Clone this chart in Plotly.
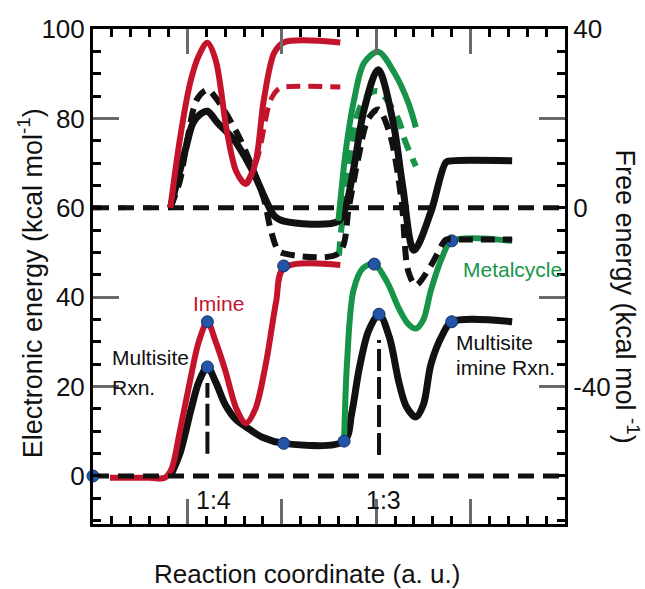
import plotly.graph_objects as go

# ---------------- data (x: reaction coordinate a.u.) ----------------
# Lower panel: electronic energy (left axis, kcal/mol)
imine_el_x = [0.9, 3.0, 3.8, 4.15, 4.6, 5.15, 5.6, 6.06, 6.5, 7.0, 7.6, 8.1, 8.6, 9.15, 9.7, 10.1, 13.1]
imine_el_y = [-0.4, -0.4, -0.4, 1.5, 10, 21.5, 30, 34.5, 30, 23.7, 15, 11.8, 15, 25, 39, 46.5, 47.2]

multi_el_x = [4.1, 4.6, 5.2, 5.6, 6.06, 6.5, 7.0, 7.6, 8.1, 9.0, 10.1, 13.3, 13.7, 14.1, 14.6, 15.15,
              15.7, 16.2, 16.6, 17.1, 17.5, 17.9, 18.5, 19.0, 22.2]
multi_el_y = [0, 5, 15, 21, 24.4, 21, 16, 12.5, 11, 8.6, 7.3, 7.8, 14, 24, 32.5, 36.2,
              31, 21, 15.5, 13.2, 16, 25, 31.5, 34.5, 34.5]

metal_el_x = [13.3, 13.45, 13.8, 14.3, 14.9, 15.6, 16.2, 16.7, 17.1, 17.5, 17.9, 18.5, 19.0, 22.2]
metal_el_y = [7.8, 25, 41.6, 46.5, 47.4, 43.2, 37.5, 34, 33, 35, 41.6, 49, 52.6, 52.6]

# Upper panel: free energy (right axis, kcal/mol)
imine_g_x = [4.1, 4.6, 5.15, 5.6, 6.06, 6.5, 7.1, 7.6, 8.1, 8.6, 9.05, 9.6, 10.1, 13.1]
imine_g_y = [0, 15.3, 28, 34, 36.9, 33, 16.9, 8, 5.3, 10, 24.2, 34.7, 37, 37]

imine_gd0_x = [0, 4.1]
imine_gd0_y = [0, 0]
imine_gd_x = [8.1, 8.7, 9.4, 9.8, 10.1, 13.1]
imine_gd_y = [5.3, 11, 24, 26.5, 27, 27]

multi_g_x = [4.1, 4.9, 5.3, 5.7, 6.06, 6.6, 7.45, 8.1, 8.6, 9.05, 9.6, 10.1, 13.0, 13.4, 13.83, 14.36,
             15.1, 15.9, 16.4, 17.0, 17.9, 18.7, 19.0, 22.2]
multi_g_y = [0, 13.1, 19, 21, 21.6, 19, 15.3, 11, 7, 2.7, -1.8, -3, -3, 0.5, 9.3, 22,
             30.9, 19.1, 4.9, -9.5, -0.9, 10.2, 10.5, 10.5]

multi_gd_x = [4.1, 4.6, 5.0, 5.5, 6.06, 6.6, 7.8, 9.05, 9.4, 9.8, 10.1, 13.0, 13.56, 14.04, 14.57,
              15.1, 15.7, 16.33, 16.7, 17.1, 17.9, 18.7, 19.0, 22.2]
multi_gd_y = [0, 6, 15.3, 24.2, 26.4, 24, 15.3, 2, -4.7, -9.5, -10.2, -10.2, 0.4, 10.9, 19.8,
              22, 16.9, 2, -14.2, -17.3, -12.9, -7.1, -7.1, -7.1]

metal_g_x = [13.0, 13.4, 13.83, 14.36, 15.1, 15.96, 16.7, 17.1]
metal_g_y = [-2.9, 13.1, 24.2, 32.4, 34.9, 30.2, 23.5, 18]

metal_gd_x = [13.03, 13.14, 13.67, 14.1, 14.73, 15.16, 16.17, 16.5, 17.1]
metal_gd_y = [-10.7, -5.3, 13.1, 22, 25.8, 26, 19.8, 15.3, 9.3]

# reference lines
zero_x = [0, 25]
zero_y = [0, 0]

# transition-state guides (left axis)
ts1_x = [6.06, 6.06]
ts1_y = [5, 20.8]
ts2_x = [15.15, 15.15]
ts2_y = [4.7, 30.4]

# stationary points (left axis)
pts_x = [0, 6.06, 6.06, 10.1, 10.1, 13.3, 14.9, 15.15, 19.0, 19.0]
pts_y = [0, 34.5, 24.4, 7.3, 47, 7.8, 47.4, 36.2, 52.6, 34.5]

# axis ticks (short ticks every step; labels only at the labelled values)
left_ticks = list(range(-10, 101, 5))
left_text = [str(v) if v % 20 == 0 and v >= 0 else "" for v in left_ticks]
left_long = [20, 40, 80]
right_ticks = list(range(-70, 41, 5))
right_text = [str(v) if v in (-40, 0, 40) else "" for v in right_ticks]
right_long = [-40, -20, 20]
x_ticks = [v for v in range(0, 26) if v % 5 != 0]
x_long = [5, 10, 15, 20]
x_labels_x = [6.38, 15.37]
x_labels = ["1:4", "1:3"]

LEFT_RANGE = [-10.74, 100]
RIGHT_RANGE = [-70.74, 40]

RED = "#c4142b"
GREEN = "#17944a"
BLACK = "#111111"
BLUE = "#2454a6"
FONT = "Liberation Sans, Arial, sans-serif"
TICK = "black"
LONG = "dimgray"
TW = 2.5

fig = go.Figure()


def line(x, y, color, width, dash="solid", axis="y", shape="spline"):
    fig.add_trace(go.Scatter(x=x, y=y, mode="lines", yaxis=axis,
                             line=dict(color=color, width=width, dash=dash, shape=shape, smoothing=0.9),
                             hoverinfo="skip", showlegend=False))


DASH = "16px,9px"

# lower panel (electronic)
line(multi_el_x, multi_el_y, BLACK, 7)
line(metal_el_x, metal_el_y, GREEN, 6)
line(imine_el_x, imine_el_y, RED, 6)
# upper dashed imine (free energy)
line(imine_gd0_x, imine_gd0_y, RED, 5, dash="8px,17px", axis="y2", shape="linear")
line(imine_gd_x, imine_gd_y, RED, 5, dash="14px,8px", axis="y2")
# zero lines
line(zero_x, zero_y, BLACK, 5, dash=DASH, axis="y", shape="linear")
line(zero_x, zero_y, BLACK, 5, dash=DASH, axis="y2", shape="linear")
line(metal_gd_x, metal_gd_y, GREEN, 6, dash="14px,9px", axis="y2")
line(multi_gd_x, multi_gd_y, BLACK, 6, dash="14px,8px", axis="y2")
line(multi_g_x, multi_g_y, BLACK, 7, axis="y2")
line(metal_g_x, metal_g_y, GREEN, 6, axis="y2")
line(imine_g_x, imine_g_y, RED, 6, axis="y2")
# TS guides
line(ts1_x, ts1_y, BLACK, 4, dash="22px,6px", shape="linear")
line(ts2_x, ts2_y, BLACK, 4, dash="22px,6px", shape="linear")

fig.add_trace(go.Scatter(x=pts_x, y=pts_y, mode="markers", cliponaxis=False,
                         marker=dict(size=12, color=BLUE, line=dict(color="#14306a", width=1)),
                         hoverinfo="skip", showlegend=False))

# invisible anchor traces so the tick-only overlay axes render
for ya in ["y3", "y4"]:
    fig.add_trace(go.Scatter(x=[1], y=[1], yaxis=ya, mode="markers", marker=dict(opacity=0),
                             showlegend=False, hoverinfo="skip"))
for xa in ["x2", "x3"]:
    fig.add_trace(go.Scatter(x=[1], y=[1], xaxis=xa, yaxis="y", mode="markers",
                             marker=dict(opacity=0), showlegend=False, hoverinfo="skip"))

tickfont = dict(family=FONT, size=26, color="#111")


def y_tick_axis(rng, vals, side):
    return dict(range=rng, side=side, overlaying="y", showline=False, ticks="inside",
                tickmode="array", tickvals=vals, ticktext=[""] * len(vals), ticklen=26,
                tickwidth=TW, tickcolor=LONG, showgrid=False, zeroline=False)


def x_tick_axis(vals, ln, color):
    return dict(range=[0, 25], overlaying="x", anchor="y", side="bottom", ticks="inside",
                tickmode="array", tickvals=vals, ticktext=[""] * len(vals), ticklen=ln,
                tickwidth=TW, tickcolor=color, mirror="allticks", showline=False,
                showgrid=False, zeroline=False)


fig.update_layout(
    width=645, height=589,
    margin=dict(l=93, r=80, t=29, b=65),
    paper_bgcolor="white", plot_bgcolor="white",
    font=dict(family=FONT),
    xaxis=dict(range=[0, 25], showline=True, linecolor="black", linewidth=3, mirror=True,
               ticks="", showticklabels=False, showgrid=False, zeroline=False),
    xaxis2=x_tick_axis(x_long, 25, LONG),
    xaxis3=x_tick_axis(x_ticks, 8, TICK),
    yaxis=dict(range=LEFT_RANGE, side="left", showline=True, linecolor="black", linewidth=3,
               ticks="inside", tickmode="array", tickvals=left_ticks, ticktext=left_text, ticklen=8,
               tickwidth=TW, tickcolor=TICK, tickfont=tickfont, showgrid=False, zeroline=False),
    yaxis2=dict(range=RIGHT_RANGE, side="right", overlaying="y", showline=True, linecolor="black",
                linewidth=3, ticks="inside", tickmode="array", tickvals=right_ticks,
                ticktext=right_text, ticklen=8, tickwidth=TW, tickcolor=TICK, tickfont=tickfont,
                showgrid=False, zeroline=False),
    yaxis3=y_tick_axis(LEFT_RANGE, left_long, "left"),
    yaxis4=y_tick_axis(RIGHT_RANGE, right_long, "right"),
)

ann = []
# x tick labels
for xv, t in zip(x_labels_x, x_labels):
    ann.append(dict(x=xv, y=-5.4, xref="x", yref="y", text=t, showarrow=False,
                    font=dict(family=FONT, size=25, color="#111")))
lab = dict(family=FONT, size=21)
ann += [
    dict(x=6.65, y=38.7, xref="x", yref="y", text="Imine", showarrow=False, font=dict(lab, color=RED)),
    dict(x=0.9, y=26.4, xref="x", yref="y", text="Multisite", xanchor="left", showarrow=False,
         font=dict(lab, color="#111")),
    dict(x=0.9, y=19.7, xref="x", yref="y", text="Rxn.", xanchor="left", showarrow=False,
         font=dict(lab, color="#111")),
    dict(x=19.5, y=46.1, xref="x", yref="y", text="Metalcycle", xanchor="left", showarrow=False,
         font=dict(lab, color=GREEN)),
    dict(x=19.1, y=29.8, xref="x", yref="y", text="Multisite", xanchor="left", showarrow=False,
         font=dict(lab, color="#111")),
    dict(x=19.1, y=24.2, xref="x", yref="y", text="imine Rxn.", xanchor="left", showarrow=False,
         font=dict(lab, color="#111")),
    # axis titles
    dict(x=0.453, y=-0.1, xref="paper", yref="paper", text="Reaction coordinate (a. u.)",
         xanchor="center", yanchor="middle", showarrow=False,
         font=dict(family=FONT, size=26, color="#111")),
    dict(x=-0.133, y=0.487, xref="paper", yref="paper", text="Electronic energy (kcal mol<sup>-1</sup>)",
         xanchor="center", yanchor="middle", textangle=-90, showarrow=False,
         font=dict(family=FONT, size=27, color="#111")),
    dict(x=1.131, y=0.46, xref="paper", yref="paper", text="Free energy (kcal mol <sup>-1</sup>)",
         xanchor="center", yanchor="middle", textangle=90, showarrow=False,
         font=dict(family=FONT, size=27, color="#111")),
]
fig.update_layout(annotations=ann)

fig.write_html("out.html")
